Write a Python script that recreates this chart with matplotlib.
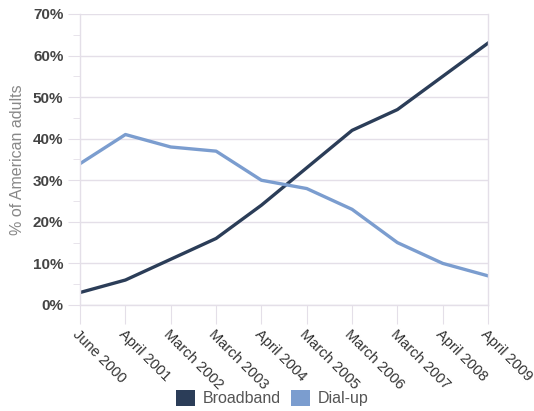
import matplotlib
matplotlib.use("Agg")
import matplotlib.pyplot as plt
from matplotlib.patches import Patch
from matplotlib.ticker import MultipleLocator, FuncFormatter

plt.rcParams["font.family"] = ["Liberation Sans", "DejaVu Sans"]

categories = ["June 2000", "April 2001", "March 2002", "March 2003", "April 2004",
              "March 2005", "March 2006", "March 2007", "April 2008", "April 2009"]
broadband = [3, 6, 11, 16, 24, 33, 42, 47, 55, 63]
dialup = [34, 41, 38, 37, 30, 28, 23, 15, 10, 7]

c_bb = "#2b3d58"
c_du = "#7b9dcf"
grid_c = "#e4dfe8"

fig = plt.figure(figsize=(5.34, 4.11), dpi=100)
ax = fig.add_axes([0.150, 0.258, 0.764, 0.708])

x = list(range(len(categories)))
ax.plot(x, broadband, color=c_bb, lw=2.4, solid_joinstyle="round")
ax.plot(x, dialup, color=c_du, lw=2.4, solid_joinstyle="round")

ax.set_xlim(0, len(categories) - 1)
ax.set_ylim(0, 70)
ax.yaxis.set_major_locator(MultipleLocator(10))
ax.yaxis.set_minor_locator(MultipleLocator(5))
ax.yaxis.set_major_formatter(FuncFormatter(lambda v, p: f"{int(v)}%"))
ax.grid(axis="y", which="major", color=grid_c, lw=1)
ax.set_axisbelow(True)

ax.spines["top"].set_visible(False)
for s in ["left", "right", "bottom"]:
    ax.spines[s].set_color(grid_c)
    ax.spines[s].set_linewidth(1)

ax.tick_params(axis="y", which="major", length=9, color=grid_c, labelsize=11,
               labelcolor="#444444", pad=3)
ax.tick_params(axis="y", which="minor", length=5, color=grid_c)
for lab in ax.get_yticklabels():
    lab.set_fontweight("bold")

ax.set_xticks(x)
ax.set_xticklabels(categories, rotation=-45, ha="left", va="top",
                   rotation_mode="anchor", fontsize=10.5, color="#333333")
ax.tick_params(axis="x", length=14, color=grid_c, pad=2)

ax.set_ylabel("% of American adults", color="#888888", fontsize=11.5, labelpad=6)

handles = [Patch(facecolor=c_bb, label="Broadband"), Patch(facecolor=c_du, label="Dial-up")]
fig.legend(handles=handles, loc="center", bbox_to_anchor=(0.51, 0.032), ncol=2,
           frameon=False, fontsize=11.5, labelcolor="#555555", handlelength=1.2,
           handleheight=1.2, handletextpad=0.5, columnspacing=0.6)

fig.savefig("out.png", dpi=100)
